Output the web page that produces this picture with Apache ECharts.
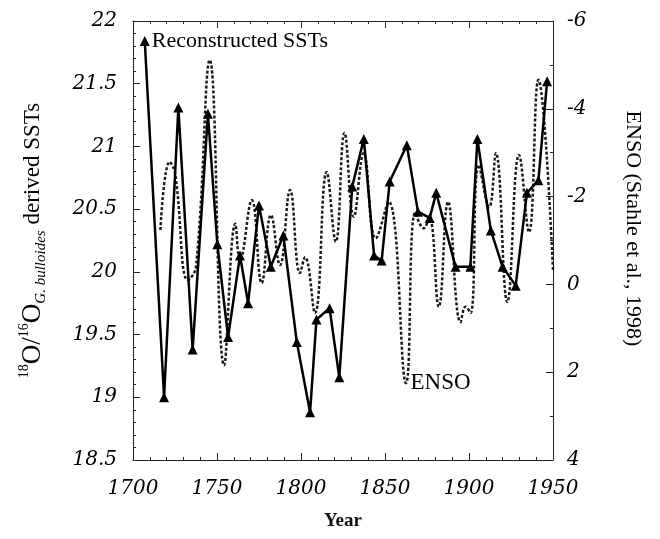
<!DOCTYPE html>
<html lang="en">
<head>
    <meta charset="utf-8">
    <title>Reconstructed SSTs and ENSO</title>
    <script src="https://cdn.jsdelivr.net/npm/echarts@6.0.0/dist/echarts.min.js"></script>
    <style>
        html, body { margin: 0; padding: 0; background: #fff; }
        #main { width: 660px; height: 539px; }
    </style>
</head>
<body>
<div id="main"></div>
<script>
    // 重建的海表温度 (实线 + 三角)
    var sstYears = [1707, 1718.5, 1727, 1735.5, 1744.6, 1750.2, 1756.6, 1763.7, 1768.5, 1775,
        1782, 1789.5, 1797.5, 1805.4, 1809.2, 1817, 1822.8, 1830.5, 1837.4, 1843.5,
        1848, 1852.8, 1863, 1869.6, 1876.6, 1880.5, 1892, 1900.8, 1905, 1913,
        1920, 1927.8, 1934.5, 1941.3, 1946.5];
    var sstValues = [21.84, 19.0, 21.31, 19.38, 21.26, 20.22, 19.48, 20.13, 19.75, 20.53,
        20.04, 20.29, 19.44, 18.88, 19.62, 19.71, 19.16, 20.68, 21.06, 20.13,
        20.09, 20.72, 21.01, 20.48, 20.43, 20.63, 20.04, 20.04, 21.06, 20.33,
        20.04, 19.89, 20.63, 20.73, 21.52];

    // ENSO 指数 (虚线, 右轴, 反向)
    var ensoYears = [1716.3, 1721.8, 1725, 1732.7, 1737.5, 1745.7, 1754.2, 1760.9, 1763.7, 1770.7,
        1776.6, 1782.1, 1787.5, 1793.5, 1799.4, 1802.4, 1808.3, 1815.3, 1820.7, 1825.9,
        1831.4, 1837.3, 1844.5, 1852.2, 1862.5, 1868, 1873, 1876.4, 1882, 1887.5,
        1895, 1898, 1901, 1905.8, 1912, 1916, 1922.8, 1929.8, 1935.7, 1941.3, 1950];
    var ensoValues = [-1.24, -2.79, -2.54, -0.10, -0.40, -5.11, 1.84, -1.38, -0.56, -1.92,
        -0.03, -1.58, -0.44, -2.15, -0.26, -0.62, 0.65, -2.56, -0.97, -3.45,
        -1.54, -2.99, -1.05, -1.88, 2.25, -1.63, -1.28, -1.51, 0.51, -1.88,
        0.86, 0.51, 0.65, -2.72, -1.76, -2.99, 0.40, -2.95, -1.19, -4.66, -0.33];

    // 坐标轴范围
    var yearMin = 1700, yearMax = 1950, yearStep = 50;
    var sstMin = 18.5, sstMax = 22, sstStep = 0.5;
    var ensoMin = -6, ensoMax = 4, ensoStep = 2;

    var sstLabelIndex = 0;                          // "Reconstructed SSTs"
    var ensoLabelIndex = ensoYears.indexOf(1862.5); // "ENSO"

    var tickFont = 'DejaVu Serif';
    var textFont = 'Liberation Serif';

    var sstData = [];
    for (var i = 0; i < sstYears.length; i++) {
        var item = {value: [sstYears[i], sstValues[i]]};
        if (i == sstLabelIndex) {
            item.label = {
                show: true, position: 'right', distance: 2,
                formatter: 'Reconstructed SSTs',
                fontFamily: textFont, fontSize: 22, color: '#000'
            };
        }
        sstData.push(item);
    }
    var ensoData = [];
    for (var j = 0; j < ensoYears.length; j++) {
        var e = {value: [ensoYears[j], ensoValues[j]]};
        if (j == ensoLabelIndex) {
            e.symbol = 'circle';
            e.symbolSize = 1;
            e.itemStyle = {color: 'rgba(0,0,0,0)', borderWidth: 0};
            e.label = {
                show: true, position: 'right', distance: 4,
                formatter: 'ENSO',
                fontFamily: textFont, fontSize: 23, color: '#000'
            };
        }
        ensoData.push(e);
    }

    var axisLine = {show: true, onZero: false, lineStyle: {color: '#222', width: 1}};
    var majorTick = {inside: true, length: 7, lineStyle: {color: '#222'}};

    var myChart = echarts.init(document.getElementById('main'));
    var option = {
        animation: false,
        backgroundColor: '#fff',
        grid: {left: 133, right: 107, top: 21, bottom: 79},
        xAxis: [{
            type: 'value',
            position: 'bottom',
            min: yearMin, max: yearMax, interval: yearStep,
            name: 'Year',
            nameLocation: 'middle',
            nameGap: 52,
            nameTextStyle: {fontFamily: textFont, fontSize: 19, fontWeight: 'bold', color: '#111'},
            axisLine: axisLine,
            axisTick: majorTick,
            minorTick: {show: true, splitNumber: 5, length: 3, lineStyle: {color: '#222'}},
            axisLabel: {
                fontFamily: tickFont, fontStyle: 'italic', fontSize: 20, color: '#000', margin: 19,
                formatter: function (v) { return String(v); }
            },
            splitLine: {show: false}
        }, {
            type: 'value',
            position: 'top',
            min: yearMin, max: yearMax, interval: yearStep,
            axisLine: axisLine,
            axisTick: majorTick,
            minorTick: {show: true, splitNumber: 5, length: 3, lineStyle: {color: '#222'}},
            axisLabel: {show: false},
            splitLine: {show: false}
        }],
        yAxis: [{
            type: 'value',
            position: 'left',
            min: sstMin, max: sstMax, interval: sstStep,
            name: '{sup|18}{big|O/}{sup|16}{big|O}{sub|G. bulloides}{txt| derived SSTs}',
            nameLocation: 'middle',
            nameGap: 84,
            nameTextStyle: {
                fontFamily: textFont, color: '#000',
                rich: {
                    sup: {fontFamily: textFont, fontSize: 14, verticalAlign: 'top', color: '#000'},
                    big: {fontFamily: textFont, fontSize: 27, lineHeight: 32, color: '#000'},
                    sub: {fontFamily: textFont, fontSize: 15, fontStyle: 'italic', verticalAlign: 'bottom', color: '#000'},
                    txt: {fontFamily: textFont, fontSize: 23, color: '#000'}
                }
            },
            axisLine: axisLine,
            axisTick: majorTick,
            minorTick: {show: true, splitNumber: 5, length: 3, lineStyle: {color: '#222'}},
            axisLabel: {fontFamily: tickFont, fontStyle: 'italic', fontSize: 20, color: '#000', margin: 16},
            splitLine: {show: false}
        }, {
            type: 'value',
            position: 'right',
            inverse: true,
            min: ensoMin, max: ensoMax, interval: ensoStep,
            name: 'ENSO (Stahle et al., 1998)',
            nameLocation: 'middle',
            nameRotate: -90,
            nameGap: 69,
            nameTextStyle: {fontFamily: textFont, fontSize: 22, color: '#000', padding: [0, 24, 0, 0]},
            axisLine: axisLine,
            axisTick: majorTick,
            minorTick: {show: true, splitNumber: 2, length: 3, lineStyle: {color: '#222'}},
            axisLabel: {fontFamily: tickFont, fontStyle: 'italic', fontSize: 20, color: '#000', margin: 14},
            splitLine: {show: false}
        }],
        series: [{
            name: 'ENSO',
            type: 'line',
            xAxisIndex: 0,
            yAxisIndex: 1,
            data: ensoData,
            smooth: 0.45,
            showSymbol: true,
            symbol: 'none',
            lineStyle: {color: '#1a1a1a', width: 2.5, type: [3, 2]},
            z: 2
        }, {
            name: 'Reconstructed SSTs',
            type: 'line',
            xAxisIndex: 0,
            yAxisIndex: 0,
            data: sstData,
            symbol: 'triangle',
            symbolSize: [10, 10],
            itemStyle: {color: '#000'},
            lineStyle: {color: '#000', width: 2.5},
            z: 3
        }]
    };
    myChart.setOption(option);
</script>
</body>
</html>
